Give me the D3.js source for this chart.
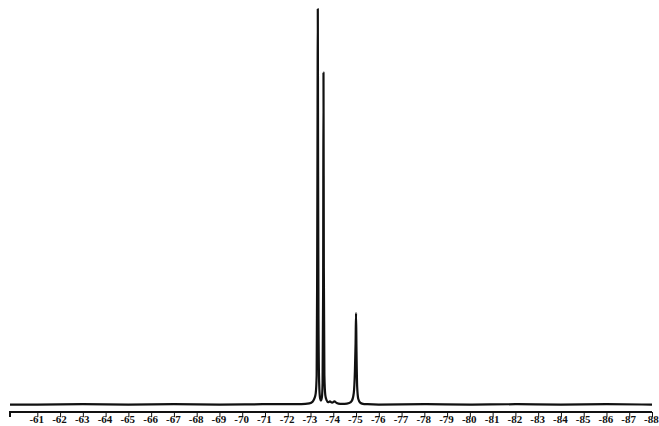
<!DOCTYPE html>
<html>
<head>
<meta charset="utf-8">
<script src="https://cdn.jsdelivr.net/npm/d3@7"></script>
<style>
  body { margin: 0; background: #fff; }
  .tick text { font-family: "Liberation Serif", serif; font-weight: bold; font-size: 11px; }
</style>
</head>
<body>
<div id="chart"></div>
<script>
// 19F spectrum: chemical shift (ppm) and relative intensity
var shifts = [-59.8, -61, -63, -65, -67, -69, -71, -72.6, -72.95, -73.1, -73.18, -73.23, -73.27,
  -73.29, -73.31, -73.32, -73.33, -73.35, -73.38, -73.42, -73.46, -73.5, -73.53, -73.555, -73.57,
  -73.585, -73.61, -73.65, -73.7, -73.78, -73.85, -73.95, -74.05, -74.15, -74.3, -74.5, -74.7,
  -74.82, -74.9, -74.95, -74.98, -75.0, -75.02, -75.05, -75.1, -75.18, -75.3, -75.5, -76,
  -78, -80, -82, -84, -86, -88];
var intensity = [0.6, 0.6, 0.7, 0.6, 0.7, 0.6, 0.7, 0.7, 0.9, 1.4, 2.3, 3.5, 8,
  30, 75, 100, 70, 22, 6, 2.2, 1.6, 2.4, 6, 30, 84,
  35, 8, 3, 1.8, 1.2, 1.4, 1.1, 1.4, 1.0, 0.8, 0.8, 1.0,
  1.6, 3.5, 9, 16, 23.6, 14, 5, 2, 1.1, 0.8, 0.7, 0.6,
  0.7, 0.6, 0.7, 0.6, 0.7, 0.6];
var tickValues = d3.range(-61, -89, -1);

var width = 659, height = 426;
var svg = d3.select("#chart").append("svg")
    .attr("width", width)
    .attr("height", height);

var x = d3.scaleLinear().domain([-59.8, -88]).range([10, 652]);
var y = d3.scaleLinear().domain([0, 100]).range([407, 9]);

var pts = shifts.map(function (s, i) { return [s, intensity[i]]; });

svg.append("path")
    .datum(pts)
    .attr("fill", "none")
    .attr("stroke", "#111")
    .attr("stroke-width", 2.2)
    .attr("stroke-linejoin", "round")
    .attr("d", d3.line()
        .x(function (d) { return x(d[0]); })
        .y(function (d) { return y(d[1]); })
        .curve(d3.curveMonotoneX));

var axis = d3.axisBottom(x)
    .tickValues(tickValues)
    .tickSize(5)
    .tickPadding(-2)
    .tickFormat(function (d) { return d3.format("d")(d).replace("−", "-"); });

var g = svg.append("g")
    .attr("transform", "translate(0,412)")
    .call(axis);
g.select(".domain").attr("stroke", "#111").attr("stroke-width", 2)
    .attr("d", "M" + x(-59.8) + ",5V0H" + x(-88));
g.selectAll(".tick line").attr("stroke", "#111").attr("stroke-width", 1);
g.selectAll(".tick text").attr("fill", "#111").attr("dx", "-0.1em");
</script>
</body>
</html>
